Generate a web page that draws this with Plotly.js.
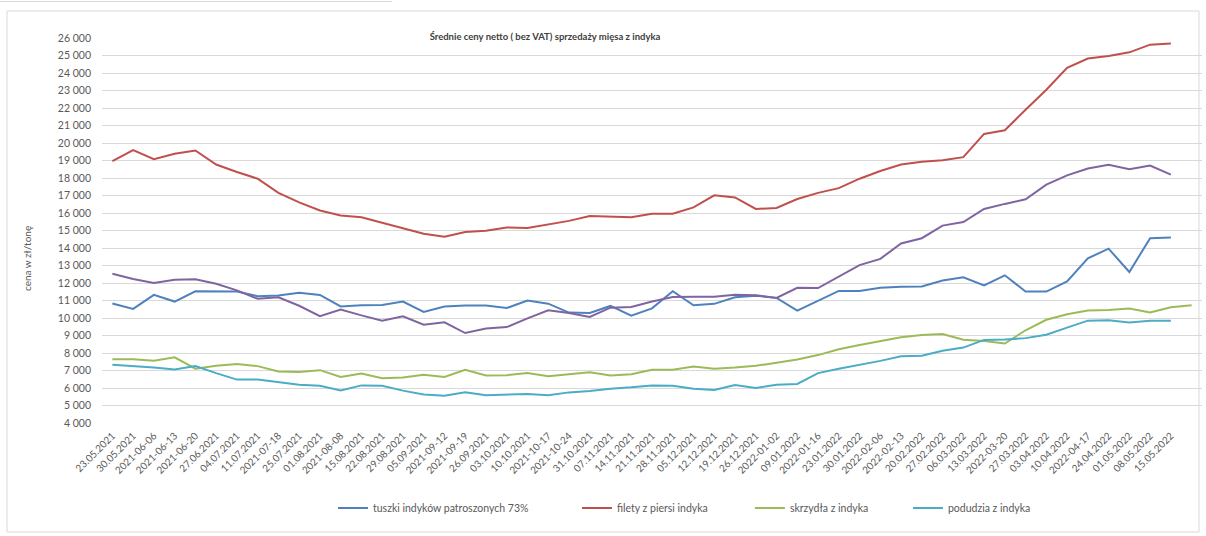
<!DOCTYPE html>
<html>
<head>
<meta charset="utf-8">
<script src="https://cdn.plot.ly/plotly-3.0.1.min.js"></script>
<style>
  html, body { margin: 0; padding: 0; background: #ffffff; }
  #chart { width: 1206px; height: 536px; }
</style>
</head>
<body>
<div id="chart"></div>
<script>
// Week labels (category axis); the last week has a value only for wings and no visible tick label
const weeks = [
  "23.05.2021","30.05.2021","2021-06-06","2021-06-13","2021-06-20","27.06.2021","04.07.2021","11.07.2021",
  "2021-07-18","25.07.2021","01.08.2021","2021-08-08","15.08.2021","22.08.2021","29.08.2021","05.09.2021",
  "2021-09-12","2021-09-19","26.09.2021","03.10.2021","10.10.2021","2021-10-17","2021-10-24","31.10.2021",
  "07.11.2021","14.11.2021","21.11.2021","28.11.2021","05.12.2021","12.12.2021","19.12.2021","26.12.2021",
  "2022-01-02","09.01.2022","2022-01-16","23.01.2022","30.01.2022","2022-02-06","2022-02-13","20.02.2022",
  "27.02.2022","06.03.2022","13.03.2022","2022-03-20","27.03.2022","03.04.2022","10.04.2022","2022-04-17",
  "24.04.2022","01.05.2022","08.05.2022","15.05.2022","22.05.2022"
];
const tickLabels = weeks.slice(0, 52);

const tuszki = [
  10830,10520,11320,10940,11530,11530,11510,11250,11280,11440,
  11320,10660,10730,10750,10940,10350,10660,10720,10710,10570,
  11000,10820,10310,10290,10690,10130,10550,11530,10730,10810,
  11190,11270,11150,10420,11000,11550,11550,11730,11790,11800,
  12140,12330,11860,12440,11510,11510,12090,13410,13960,12630,
  14560,14600,null
];
const filety = [
  18960,19600,19080,19380,19570,18770,18340,17960,17150,16610,
  16140,15860,15760,15440,15090,14810,14650,14920,14980,15170,
  15150,15360,15550,15830,15780,15760,15960,15960,16320,17010,
  16890,16230,16290,16800,17150,17420,17960,18400,18770,18930,
  19010,19190,20520,20730,21900,23040,24300,24830,24970,25180,
  25620,25690,null
];
const skrzydla = [
  7650,7650,7560,7750,7100,7270,7370,7250,6940,6920,
  7020,6630,6830,6560,6600,6750,6630,7040,6710,6730,
  6850,6670,6790,6900,6710,6790,7040,7040,7230,7100,
  7170,7270,7440,7630,7880,8210,8460,8680,8900,9030,
  9080,8760,8680,8540,9300,9900,10210,10430,10460,10540,
  10310,10610,10730
];
const seria4 = [
  12530,12230,12000,12190,12210,11960,11580,11100,11180,10700,
  10110,10490,10150,9850,10100,9620,9750,9140,9400,9480,
  9980,10440,10290,10060,10590,10630,10940,11200,11220,11220,
  11330,11300,11150,11730,11710,12370,13020,13380,14260,14560,
  15280,15480,16230,16520,16780,17620,18150,18540,18750,18500,
  18710,18190,null
];
const podudzia = [
  7330,7270,7170,7060,7250,6850,6480,6480,6350,6190,
  6130,5860,6150,6130,5850,5630,5560,5760,5580,5600,
  5660,5580,5750,5830,5960,6040,6150,6130,5960,5890,
  6170,6000,6190,6230,6850,7100,7310,7550,7810,7840,
  8130,8310,8750,8770,8850,9040,9450,9850,9870,9750,
  9850,9850,null
];

const names = ["tuszki indyków patroszonych 73%", "filety z piersi indyka", "skrzydła z indyka", "", "podudzia z indyka"];
const colors = ["#4F81BD", "#C0504D", "#9BBB59", "#8064A2", "#4BACC6"];
const seriesData = [tuszki, filety, skrzydla, seria4, podudzia];
const legendIds = ["legend", "legend2", "legend3", "legend", "legend4"];

const traces = seriesData.map((ys, k) => ({
  type: "scatter",
  mode: "lines",
  x: weeks,
  y: ys,
  name: names[k],
  legend: legendIds[k],
  showlegend: k !== 3,
  line: { color: colors[k], width: 2 },
  connectgaps: false,
  hoverinfo: "x+y+name"
}));

const FONT = "Lato, 'Liberation Sans', Arial, sans-serif";
const GREY = "#595959";

function legendAt(x) {
  return {
    orientation: "h", x: x, xanchor: "left", y: -0.221, yanchor: "middle",
    font: { family: FONT, size: 10.5, color: GREY },
    bgcolor: "rgba(0,0,0,0)", borderwidth: 0, itemwidth: 30
  };
}

const layout = {
  width: 1206, height: 536,
  margin: { l: 102, r: 4, t: 38, b: 113 },
  paper_bgcolor: "#ffffff",
  plot_bgcolor: "#ffffff",
  separators: ", ",
  font: { family: FONT, color: GREY },
  title: {
    text: "Średnie ceny netto ( bez VAT) sprzedaży mięsa z indyka",
    font: { family: FONT, size: 9.5, color: "#404040", weight: "bold" },
    x: 545 / 1206, xanchor: "center", xref: "container",
    y: 1 - 37 / 536, yanchor: "middle", yref: "container"
  },
  xaxis: {
    type: "category",
    range: [-0.5, 52.5],
    tickmode: "array",
    tickvals: tickLabels,
    ticktext: tickLabels,
    tickangle: -45,
    tickfont: { family: FONT, size: 10, color: GREY },
    ticks: "",
    ticklabelstandoff: 4,
    showgrid: false,
    showline: false,
    zeroline: false,
    automargin: false
  },
  yaxis: {
    range: [4000, 26000],
    dtick: 1000,
    tick0: 4000,
    tickformat: ",.0f",
    tickfont: { family: FONT, size: 10.5, color: GREY },
    ticks: "",
    ticklabelstandoff: 10,
    showgrid: true,
    gridcolor: "#D9D9D9",
    gridwidth: 1,
    showline: false,
    zeroline: false,
    automargin: false
  },
  legend: legendAt(0.21),
  legend2: legendAt(0.4318),
  legend3: legendAt(0.589),
  legend4: legendAt(0.7327),
  annotations: [{
    text: "cena w zł/tonę",
    textangle: -90,
    xref: "paper", yref: "paper",
    x: (27 - 102) / 1100, y: (423 - 259) / 385,
    xanchor: "center", yanchor: "middle",
    showarrow: false,
    font: { family: FONT, size: 10, color: GREY }
  }],
  shapes: [{
    type: "rect", xref: "paper", yref: "paper",
    x0: (7 - 102) / 1100, x1: (1199 - 102) / 1100,
    y0: (423 - 532) / 385, y1: (423 - 11) / 385,
    line: { color: "#D9D9D9", width: 1 },
    fillcolor: "rgba(0,0,0,0)",
    layer: "below"
  }, {
    type: "line", xref: "paper", yref: "paper",
    x0: (0 - 102) / 1100, x1: (392 - 102) / 1100,
    y0: (423 - 1.5) / 385, y1: (423 - 1.5) / 385,
    line: { color: "#D9D9D9", width: 1 },
    layer: "below"
  }]
};

Plotly.newPlot("chart", traces, layout, { displayModeBar: false, staticPlot: false });
</script>
</body>
</html>
